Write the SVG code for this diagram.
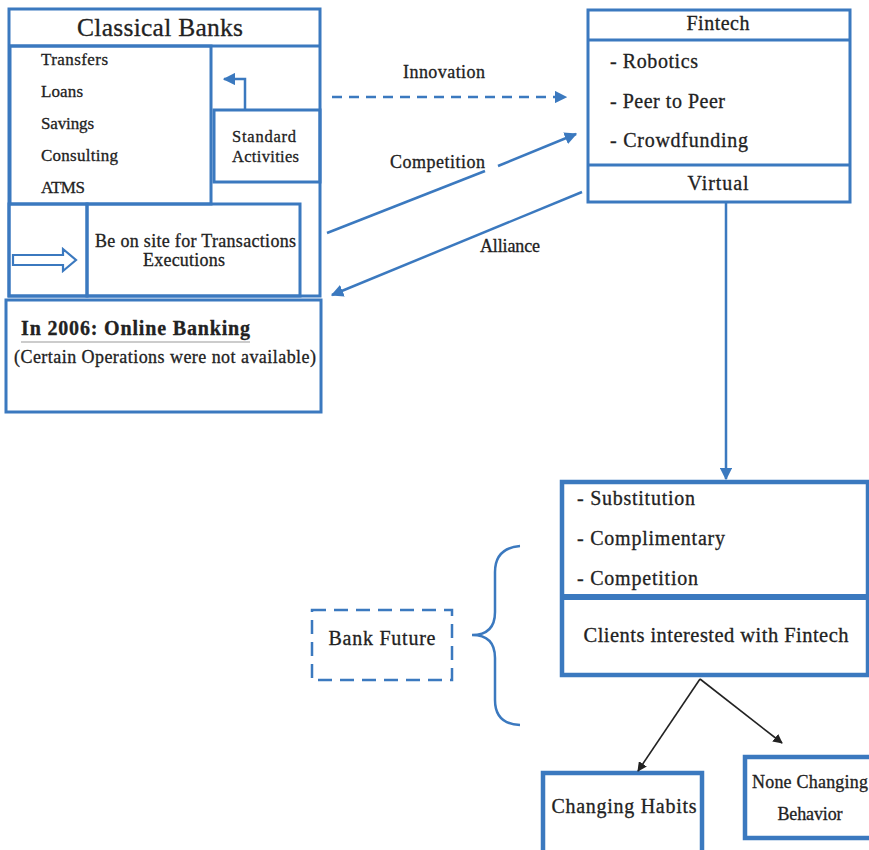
<svg xmlns="http://www.w3.org/2000/svg" width="869" height="850" viewBox="0 0 869 850">
<style>
.b{fill:none;stroke:#3b79bf;stroke-width:3}
.bt{fill:none;stroke:#3b79bf;stroke-width:4.5}
.t{font-family:"Liberation Serif","DejaVu Serif",serif;fill:#222;stroke:#222;stroke-width:0.3}
.c{stroke:#3b79bf;stroke-width:2.5;fill:none}
.k{stroke:#222;stroke-width:1.6;fill:none}
</style>
<defs>
<marker id="ab" viewBox="0 0 10 10" refX="9" refY="5" markerWidth="5" markerHeight="5" orient="auto" markerUnits="strokeWidth"><path d="M0,0 L10,5 L0,10 z" fill="#3b79bf"/></marker>
<marker id="ak" viewBox="0 0 10 10" refX="9" refY="5" markerWidth="6" markerHeight="6" orient="auto" markerUnits="strokeWidth"><path d="M0,0 L10,5 L0,10 z" fill="#222"/></marker>
</defs>
<rect width="869" height="850" fill="#fff"/>

<g id="classical-banks">
<rect class="b" x="9" y="9" width="311" height="287"/>
<line class="b" x1="9" y1="46" x2="320" y2="46"/>
<text class="t" x="160" y="36" font-size="25.5" text-anchor="middle" textLength="166">Classical Banks</text>
</g>

<g id="services">
<rect class="b" x="10" y="46" width="201" height="158"/>
<text class="t" x="41" y="65" font-size="17" textLength="67">Transfers</text>
<text class="t" x="41" y="97" font-size="17" textLength="42">Loans</text>
<text class="t" x="41" y="129" font-size="17" textLength="53">Savings</text>
<text class="t" x="41" y="161" font-size="17" textLength="77">Consulting</text>
<text class="t" x="41" y="193" font-size="17" textLength="44">ATMS</text>
</g>

<g id="standard-activities">
<rect class="b" x="214" y="110" width="106" height="72"/>
<text class="t" x="232" y="142" font-size="16.5" textLength="64">Standard</text>
<text class="t" x="232" y="162" font-size="16.5" textLength="67">Activities</text>
</g>

<g id="on-site-arrow">
<rect class="b" x="9" y="204" width="78" height="92"/>
<polygon points="13,255 63,255 63,249 76,260 63,271 63,265 13,265" fill="none" stroke="#3b79bf" stroke-width="2.2"/>
</g>

<g id="on-site">
<rect class="b" x="87" y="204" width="213" height="92"/>
<text class="t" x="95" y="247" font-size="18" textLength="201">Be on site for Transactions</text>
<text class="t" x="143" y="266" font-size="18" textLength="82">Executions</text>
</g>

<g id="online-banking">
<rect class="b" x="6" y="300" width="315" height="112"/>
<text class="t" x="21" y="335" font-size="20" font-weight="bold" textLength="229">In 2006: Online Banking</text>
<line x1="21" y1="342" x2="250" y2="342" stroke="#999" stroke-width="1.2"/>
<text class="t" x="14" y="363" font-size="18" textLength="302">(Certain Operations were not available)</text>
</g>

<g id="fintech">
<rect class="b" x="588" y="10" width="262" height="192"/>
<line class="b" x1="588" y1="40" x2="850" y2="40"/>
<line class="b" x1="588" y1="165" x2="850" y2="165"/>
<text class="t" x="718" y="30" font-size="20" text-anchor="middle" textLength="63">Fintech</text>
<text class="t" x="610" y="68" font-size="20" textLength="88">- Robotics</text>
<text class="t" x="610" y="108" font-size="20" textLength="115">- Peer to Peer</text>
<text class="t" x="610" y="147" font-size="20" textLength="138">- Crowdfunding</text>
<text class="t" x="718" y="190" font-size="20" text-anchor="middle" textLength="61">Virtual</text>
</g>

<g id="outcomes">
<rect class="bt" x="562" y="482" width="306" height="193"/>
<line x1="562" y1="597" x2="868" y2="597" stroke="#3b79bf" stroke-width="6"/>
<text class="t" x="577" y="505" font-size="20" textLength="118">- Substitution</text>
<text class="t" x="577" y="545" font-size="20" textLength="148">- Complimentary</text>
<text class="t" x="577" y="585" font-size="20" textLength="121">- Competition</text>
<text class="t" x="716" y="642" font-size="20.5" text-anchor="middle" textLength="265">Clients interested with Fintech</text>
</g>

<g id="bank-future">
<rect x="312" y="610" width="140" height="70" fill="none" stroke="#3b79bf" stroke-width="2.5" stroke-dasharray="14,8"/>
<text class="t" x="382" y="645" font-size="20" text-anchor="middle" textLength="107">Bank Future</text>
</g>

<g id="changing-habits">
<rect class="bt" x="543" y="773" width="159" height="85"/>
<text class="t" x="624" y="813" font-size="20" text-anchor="middle" textLength="145">Changing Habits</text>
</g>

<g id="none-changing">
<rect class="bt" x="745" y="757" width="130" height="81"/>
<text class="t" x="752" y="788" font-size="18" textLength="116">None Changing</text>
<text class="t" x="810" y="820" font-size="18" text-anchor="middle" textLength="65">Behavior</text>
</g>

<g id="connectors">
<polyline class="c" points="245,110 245,79 224,79" marker-end="url(#ab)"/>
<line class="c" x1="332" y1="97" x2="566" y2="97" stroke-dasharray="10,7" marker-end="url(#ab)"/>
<text class="t" x="403" y="78" font-size="18" textLength="82">Innovation</text>
<line class="c" x1="327" y1="233" x2="485" y2="171"/>
<line class="c" x1="498" y1="166" x2="576" y2="134" marker-end="url(#ab)"/>
<text class="t" x="390" y="168" font-size="18" textLength="95">Competition</text>
<line class="c" x1="582" y1="192" x2="332" y2="295" marker-end="url(#ab)"/>
<text class="t" x="480" y="252" font-size="18" textLength="60">Alliance</text>
<line class="c" x1="726" y1="202" x2="726" y2="479" marker-end="url(#ab)"/>
<path class="c" d="M520,546 Q495,548 495,572 L495,612 Q495,635 472,635 Q495,635 495,658 L495,700 Q495,724 520,725"/>
<line class="k" x1="700" y1="679" x2="638" y2="771" marker-end="url(#ak)"/>
<line class="k" x1="700" y1="679" x2="782" y2="743" marker-end="url(#ak)"/>
</g>
</svg>
